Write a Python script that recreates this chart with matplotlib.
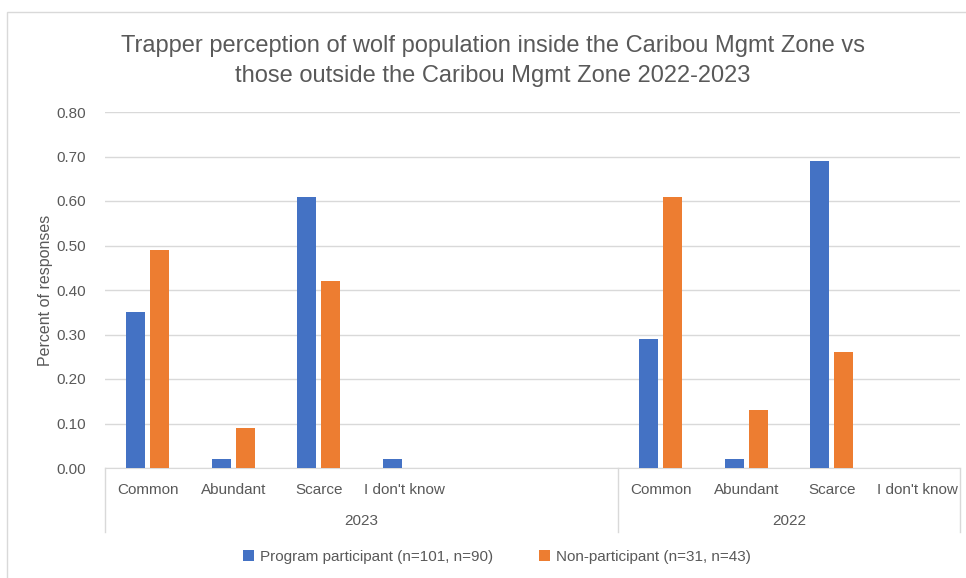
import numpy as np
import matplotlib.pyplot as plt
from matplotlib.patches import Rectangle
import matplotlib.transforms as mtransforms

# datos
categorias = ["Common", "Abundant", "Scarce", "I don't know", "", "",
              "Common", "Abundant", "Scarce", "I don't know"]
anios = ["2023", "2022"]
grupos = [(-0.5, 5.5), (5.5, 9.5)]
participante = [0.35, 0.02, 0.61, 0.02, 0, 0, 0.29, 0.02, 0.69, 0]
no_participante = [0.49, 0.09, 0.42, 0, 0, 0, 0.61, 0.13, 0.26, 0]
yticks = [0.0, 0.1, 0.2, 0.3, 0.4, 0.5, 0.6, 0.7, 0.8]

azul = "#4472C4"
naranja = "#ED7D31"
gris = "#595959"

plt.rcParams['font.family'] = ['Liberation Sans', 'DejaVu Sans']

W, H = 966, 578
fig = plt.figure(figsize=(W/100, H/100), dpi=100)

# borde del gráfico
fig.patches.append(Rectangle((7/W, -0.1), 1.2, 1 - 12/H + 0.1, transform=fig.transFigure,
                             fill=False, edgecolor="#D9D9D9", linewidth=1))

ax = fig.add_axes([105/W, (H-468)/H, 855/W, (468-112)/H])

x = np.arange(len(categorias))
ancho = 0.22
ax.bar(x - 0.14, participante, ancho, color=azul, label="Program participant (n=101, n=90)", zorder=3)
ax.bar(x + 0.14, no_participante, ancho, color=naranja, label="Non-participant (n=31, n=43)", zorder=3)

ax.set_xlim(-0.5, len(categorias) - 0.5)
ax.set_ylim(0, 0.8)
ax.set_yticks(yticks)
ax.set_yticklabels(["%.2f" % v for v in yticks])
ax.yaxis.grid(True, color="#D9D9D9", linewidth=1)
ax.set_axisbelow(True)

for lado in ["top", "right", "left"]:
    ax.spines[lado].set_visible(False)
ax.spines["bottom"].set_color("#D9D9D9")

ax.set_xticks(x)
ax.set_xticklabels(categorias)
ax.tick_params(axis="both", length=0, colors=gris, labelsize=11)
ax.tick_params(axis="x", pad=11)
ax.tick_params(axis="y", pad=14)

ax.set_ylabel("Percent of responses", color=gris, fontsize=11.5, labelpad=2)

# eje de categorías en dos niveles
trans = mtransforms.blended_transform_factory(ax.transData, ax.transAxes)
for (a, b), anio in zip(grupos, anios):
    ax.text((a + b) / 2, -0.15, anio, transform=trans, ha="center", va="center",
            color=gris, fontsize=11)
for xs in [-0.5, 5.5, 9.5]:
    ax.plot([xs, xs], [0, -0.18], transform=trans, color="#D9D9D9", linewidth=1, clip_on=False)

fig.text(493/W, 1 - 61/H, "Trapper perception of wolf population inside the Caribou Mgmt Zone vs\n"
         "those outside the Caribou Mgmt Zone 2022-2023", ha="center", va="center",
         color=gris, fontsize=17, linespacing=1.45)

fig.legend(loc="center", bbox_to_anchor=(497/W, 1 - 557/H), ncol=2, frameon=False,
           fontsize=11, handlelength=0.7, handleheight=0.7, columnspacing=3,
           handletextpad=0.4, labelcolor=gris)

fig.savefig("out.png", dpi=100)
